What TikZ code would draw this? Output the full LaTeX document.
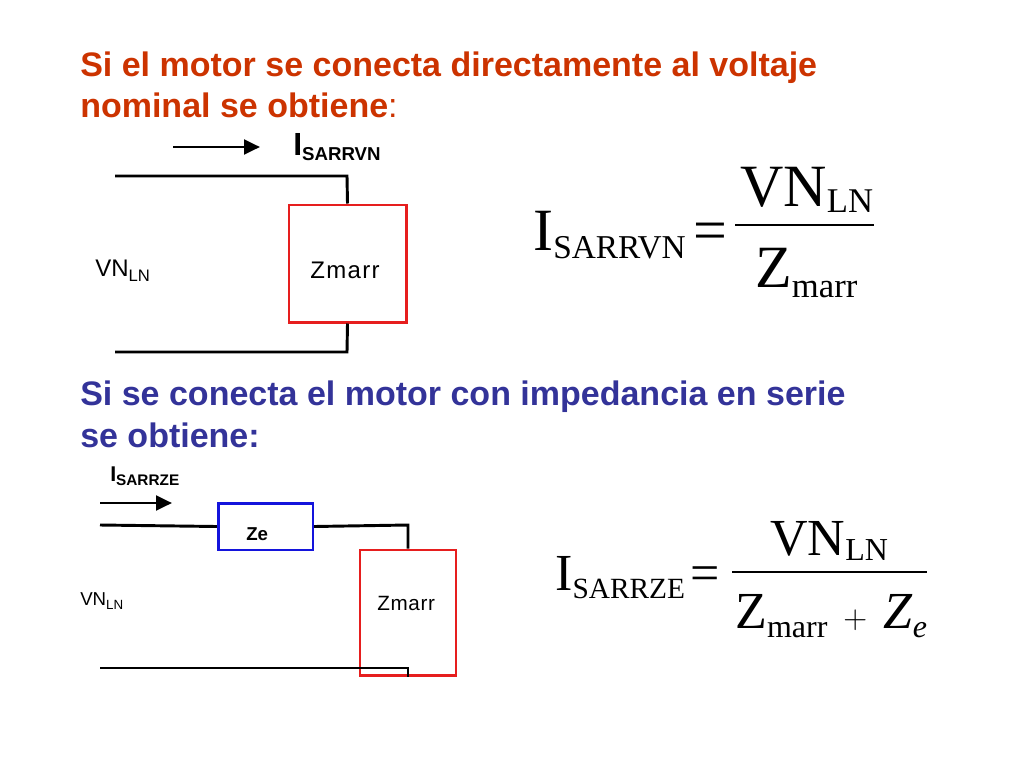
\documentclass[tikz,border=0pt]{standalone}
\usepackage{fontspec}
\setmainfont{Liberation Sans}
\newfontfamily\tms{Liberation Serif}
\usetikzlibrary{arrows.meta}
\definecolor{tred}{RGB}{204,51,0}
\definecolor{tblue}{RGB}{51,51,153}
\definecolor{bred}{RGB}{230,30,30}
\definecolor{bblue}{RGB}{20,20,220}
\begin{document}
\begin{tikzpicture}[x=0.75pt,y=-0.75pt,
  wire/.style={line width=2.2pt},
  lbl/.style={inner sep=0pt,anchor=base west},
  arr/.style={line width=2.2pt,-{Triangle[length=12pt,width=11pt]}}]
\useasboundingbox (0,0) rectangle (1024,768);
% title 1
\node[lbl,text=tred,font=\fontsize{25.5}{28}\selectfont\bfseries] (t1) at (80,76) {Si el motor se conecta directamente al voltaje};
\node[lbl,text=tred,font=\fontsize{25.5}{28}\selectfont\bfseries] (t2) at (80,117) {nominal se obtiene\textmd{:}};
% circuit 1
\node[draw=bred,line width=2pt,minimum width=88pt,minimum height=88pt,inner sep=0pt] (zm1) at (347.5,263.5) {};
\node[lbl,font=\fontsize{18}{20}\selectfont] (zt1) at (310,278) {Z\hspace{1pt}m\hspace{1pt}a\hspace{1pt}r\hspace{1pt}r};
\coordinate (a1) at (115,176); \coordinate (b1) at (115,352);
\draw[wire] (a1) -- (347,176) -- (zm1.north);
\draw[wire] (zm1.south) -- (347,352) -- (b1);
\coordinate (p1) at (173,147); \coordinate (q1) at (260,147);
\draw[arr] (p1) -- (q1);
\node[lbl,font=\fontsize{24}{26}\selectfont\bfseries] (i1) at (293,155) {I\raisebox{-4pt}{\fontsize{14}{16}\selectfont SARRVN}};
\node[lbl,font=\fontsize{18}{20}\selectfont] (v1) at (95,276) {VN\raisebox{-4pt}{\fontsize{12.5}{14}\selectfont LN}};
% formula 1
\node[lbl,font=\tms\fontsize{45}{50}\selectfont] (f1) at (533,250) {I\raisebox{-6pt}{\fontsize{25}{30}\selectfont SARRVN}};
\node[lbl,font=\tms\fontsize{45}{50}\selectfont] (eq1) at (693,250) {=};
\draw[line width=2pt] (735,225) -- (874,225);
\node[lbl,font=\tms\fontsize{45}{50}\selectfont] (n1) at (740,206) {VN\raisebox{-5pt}{\fontsize{26}{30}\selectfont LN}};
\node[lbl,font=\tms\fontsize{45}{50}\selectfont] (d1) at (755,287) {Z\raisebox{-8pt}{\fontsize{26}{30}\selectfont marr}};
% title 2
\node[lbl,text=tblue,font=\fontsize{25.5}{28}\selectfont\bfseries] (t3) at (80,405) {Si se conecta el motor con impedancia en serie};
\node[lbl,text=tblue,font=\fontsize{25.5}{28}\selectfont\bfseries] (t4) at (80,447) {se obtiene:};
% circuit 2
\node[draw=bblue,line width=2pt,minimum width=71pt,minimum height=35pt,inner sep=0pt] (ze) at (265.5,526.5) {};
\node[lbl,font=\fontsize{14}{16}\selectfont\bfseries] (zet) at (246,540) {Ze};
\node[draw=bred,line width=2pt,minimum width=72pt,minimum height=94pt,inner sep=0pt] (zm2) at (408,612.5) {};
\node[lbl,font=\fontsize{15.5}{18}\selectfont] (zt2) at (377,610) {Z\hspace{0.5pt}m\hspace{0.5pt}a\hspace{0.5pt}r\hspace{0.5pt}r};
\coordinate (a2) at (100,525); \coordinate (b2) at (100,668);
\draw[wire] (a2) -- (ze.west);
\draw[wire] (ze.east) -- (408,525) -- (zm2.north);
\draw[wire] (zm2.south) -- (408,668) -- (b2);
\coordinate (p2) at (100,503); \coordinate (q2) at (172,503);
\draw[arr] (p2) -- (q2);
\node[lbl,font=\fontsize{16}{18}\selectfont\bfseries] (i2) at (110,481) {I\raisebox{-3pt}{\fontsize{11.5}{13}\selectfont SARRZE}};
\node[lbl,font=\fontsize{14}{16}\selectfont] (v2) at (80,605) {VN\raisebox{-3pt}{\fontsize{10}{11}\selectfont LN}};
% formula 2
\node[lbl,font=\tms\fontsize{39}{44}\selectfont] (f2) at (555,590) {I\raisebox{-6pt}{\fontsize{22}{26}\selectfont SARRZE}};
\node[lbl,font=\tms\fontsize{39}{44}\selectfont] (eq2) at (690,590) {=};
\draw[line width=2pt] (732,572) -- (927,572);
\node[lbl,font=\tms\fontsize{39}{44}\selectfont] (n2) at (770,555) {VN\raisebox{-4pt}{\fontsize{24}{26}\selectfont LN}};
\node[lbl,font=\tms\fontsize{39}{44}\selectfont] (d2) at (735,628) {Z\raisebox{-7pt}{\fontsize{24}{26}\selectfont marr}\,${}+{}$\,\textit{Z}\raisebox{-7pt}{\fontsize{24}{26}\selectfont\itshape e}};
\end{tikzpicture}
\end{document}
